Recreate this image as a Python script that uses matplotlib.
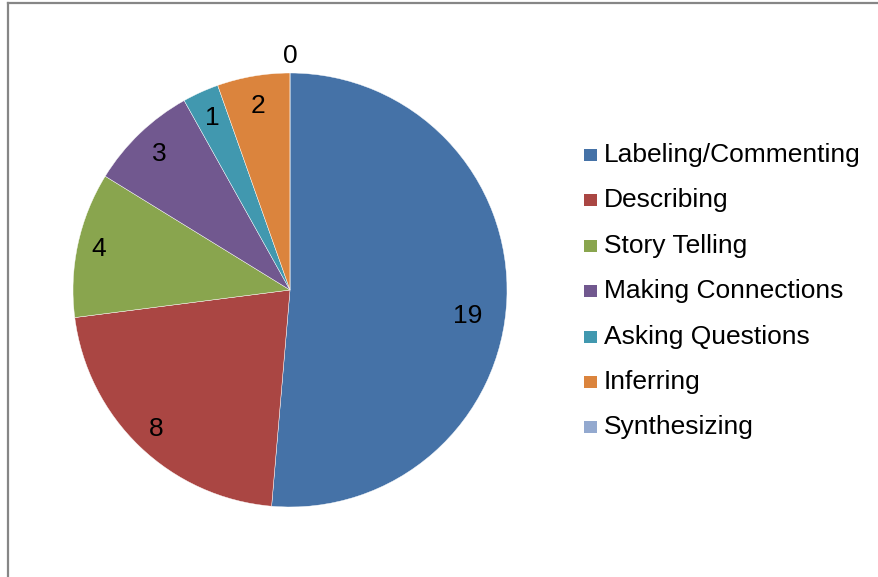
import numpy as np
import matplotlib.pyplot as plt
from matplotlib.lines import Line2D
from matplotlib.patches import Rectangle

plt.rcParams['font.family'] = ['Liberation Sans', 'DejaVu Sans']

categories = ["Labeling/Commenting", "Describing", "Story Telling",
              "Making Connections", "Asking Questions", "Inferring", "Synthesizing"]
counts = [19, 8, 4, 3, 1, 2, 0]
colors = ["#4572A7", "#AA4643", "#89A54E", "#71588F", "#4198AF", "#DB843D", "#93A9CF"]
# data label placement: radial fraction and angular nudge (degrees)
label_r = [0.83, 0.89, 0.90, 0.87, 0.87, 0.86, 1.08]
label_shift = [-6, 0, 0, 0, 0, 0, 0]

fig = plt.figure(figsize=(8.79, 5.77), dpi=100)

# chart frame (left and top edges only)
fig.add_artist(Line2D([8 / 879, 8 / 879], [0, 1 - 3 / 577], transform=fig.transFigure,
                      color="#868686", lw=1.6))
fig.add_artist(Line2D([8 / 879, 1], [1 - 3 / 577, 1 - 3 / 577], transform=fig.transFigure,
                      color="#868686", lw=1.6))

ax = fig.add_axes([73 / 879, 70 / 577, 434 / 879, 434 / 577])
wedges, _ = ax.pie(counts, colors=colors, startangle=90, counterclock=False, radius=1,
                   wedgeprops=dict(edgecolor="white", linewidth=0.3))
ax.set_xlim(-1, 1)
ax.set_ylim(-1, 1)
ax.set_aspect("equal")
ax.axis("off")

for w, n, r, s in zip(wedges, counts, label_r, label_shift):
    mid = np.deg2rad((w.theta1 + w.theta2) / 2 + s)
    ax.text(r * np.cos(mid), r * np.sin(mid), str(n), ha="center", va="center",
            fontsize=19, color="black", clip_on=False)

# legend
y0 = 1 - 155 / 577
step = 45.4 / 577
for i, (name, c) in enumerate(zip(categories, colors)):
    y = y0 - i * step
    fig.add_artist(Rectangle((584 / 879, y - 6 / 577), 13 / 879, 12 / 577,
                             transform=fig.transFigure, facecolor=c, edgecolor="none"))
    fig.text(604 / 879, y, name, fontsize=19, va="center", ha="left", color="black")

fig.savefig("out.png", dpi=100)
